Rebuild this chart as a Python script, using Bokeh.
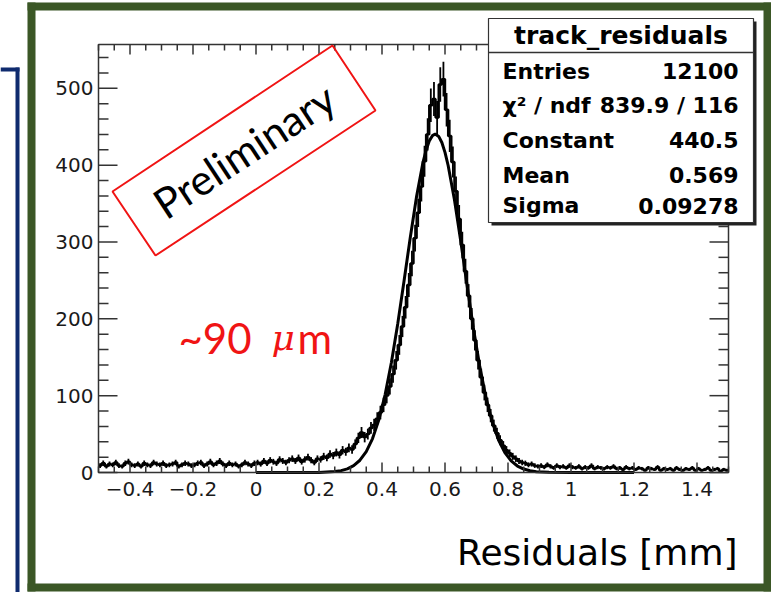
import numpy as np
from bokeh.plotting import figure
from bokeh.models import Range1d
from bokeh.core.properties import value
from bokeh.embed import file_html
from bokeh.resources import INLINE

# ---------------- data ----------------
BIN_LOW = -0.5
BIN_WIDTH = 0.01
COUNTS = [
    # -0.50 .. -0.01
    9, 12, 8, 11, 10, 13, 9, 8, 12, 14,
    10, 9, 11, 8, 12, 10, 9, 13, 11, 10,
    12, 9, 10, 11, 13, 8, 10, 12, 11, 9,
    10, 12, 13, 9, 11, 14, 10, 12, 15, 11,
    9, 12, 10, 11, 8, 10, 13, 11, 9, 12,
    # 0.00 .. 0.49
    13, 11, 15, 12, 16, 14, 12, 17, 15, 13,
    16, 18, 15, 19, 14, 17, 20, 16, 13, 18,
    17, 21, 19, 24, 22, 26, 23, 29, 27, 32,
    30, 37, 45, 52, 46, 50, 58, 62, 70, 78,
    88, 100, 112, 128, 146, 166, 190, 215, 244, 272,
    # 0.50 .. 0.99
    305, 338, 372, 405, 440, 478, 486, 462, 505, 512,
    472, 438, 404, 366, 330, 296, 262, 230, 200, 172,
    146, 124, 104, 88, 74, 61, 51, 42, 35, 29,
    25, 21, 18, 15, 13, 12, 10, 11, 9, 8,
    9, 7, 10, 8, 6, 9, 7, 8, 6, 9,
    # 1.00 .. 1.49
    7, 6, 8, 5, 7, 6, 9, 5, 7, 6,
    5, 7, 6, 8, 5, 6, 4, 7, 5, 6,
    4, 6, 5, 3, 6, 5, 4, 7, 3, 5,
    4, 5, 3, 6, 4, 3, 5, 4, 6, 3,
    5, 3, 4, 6, 3, 4, 5, 2, 4, 3,
]

# Gaussian fit curve values (Constant 440.5, Mean 0.569, Sigma 0.09278)
FIT_X = [0.00, 0.10, 0.20, 0.25, 0.27, 0.29, 0.31, 0.33, 0.35, 0.37, 0.39, 0.41,
         0.43, 0.45, 0.47, 0.49, 0.51, 0.53, 0.54, 0.55, 0.56, 0.569, 0.58, 0.59,
         0.60, 0.61, 0.63, 0.65, 0.67, 0.69, 0.71, 0.73, 0.75, 0.77, 0.79, 0.81,
         0.83, 0.85, 0.87, 0.89, 0.93, 1.00, 1.20]
FIT_Y = [0.0, 0.0, 0.16, 1.19, 2.45, 4.79, 8.96, 15.96, 27.18, 44.2, 68.5, 101.4,
         143.4, 193.5, 249.3, 306.5, 359.9, 403.3, 419.5, 431.3, 438.4, 440.5, 437.4, 429.4,
         416.6, 399.5, 354.9, 300.9, 243.6, 188.2, 138.8, 97.7, 65.7, 42.2, 25.8, 15.1,
         8.42, 4.49, 2.28, 1.11, 0.23, 0.0, 0.0]

X_TICKS = [-0.4, -0.2, 0.0, 0.2, 0.4, 0.6, 0.8, 1.0, 1.2, 1.4]
X_TICK_LABELS = ["\u22120.4", "\u22120.2", "0", "0.2", "0.4", "0.6", "0.8", "1", "1.2", "1.4"]
Y_TICKS = [0, 100, 200, 300, 400, 500]
Y_TICK_LABELS = ["0", "100", "200", "300", "400", "500"]

STATS_TITLE = "track_residuals"
STATS_NAMES = ["Entries", "\u03c7\u00b2 / ndf", "Constant", "Mean", "Sigma"]
STATS_VALUES = ["12100", "839.9 / 116", "440.5", "0.569", "0.09278"]

X_TITLE = "Residuals [mm]"

# ---------------- geometry ----------------
W, H = 771, 592
FL, FR, FT, FB = 98, 728, 44, 472          # ROOT frame, canvas pixels (y down)
X_START, X_END = -0.5, 1.5
Y_START, Y_END = 0, 557

sxp = (FR - FL) / (X_END - X_START)
syp = (FB - FT) / (Y_END - Y_START)

# The Bokeh frame covers the whole canvas in pixel units (y up); the histogram
# uses extra ranges that put its data window exactly on the ROOT frame.
p = figure(width=W, height=H, output_backend="svg", toolbar_location=None,
           x_range=Range1d(0, W), y_range=Range1d(0, H),
           x_axis_location=None, y_axis_location=None, min_border=0)
p.extra_x_ranges = {"hx": Range1d(X_START - FL / sxp, X_END + (W - FR) / sxp)}
p.extra_y_ranges = {"hy": Range1d(Y_START - (H - FB) / syp, Y_END + FT / syp)}
p.xgrid.visible = False
p.ygrid.visible = False
p.outline_line_color = None
p.background_fill_color = "white"
p.border_fill_color = "white"

HR = dict(x_range_name="hx", y_range_name="hy")


def Y(py):
    return H - py


def txt(x, y, s, font, size, color="black", align="left", baseline="middle",
        style="normal", angle=0.0, **kw):
    p.text(x=x, y=y, text=s, text_font=value(font), text_font_size=value(size),
           text_color=color, text_align=align, text_baseline=baseline,
           text_font_style=style, angle=angle, **kw)


# ---------------- histogram ----------------
counts = np.array(COUNTS, dtype=float)
edges = BIN_LOW + BIN_WIDTH * np.arange(len(counts) + 1)
centers = 0.5 * (edges[:-1] + edges[1:])
sx = np.repeat(edges, 2)[1:-1]
sy = np.repeat(counts, 2)
p.line(sx, sy, line_color="black", line_width=2.4, **HR)
err = np.sqrt(counts)
p.segment(x0=centers, y0=counts - err, x1=centers, y1=counts + err,
          line_color="black", line_width=1.8, **HR)
p.line(FIT_X, FIT_Y, line_color="black", line_width=3, **HR)

# ---------------- ROOT frame, ticks, tick labels ----------------
AX = "#333333"
p.quad(left=[X_START], right=[X_END], bottom=[Y_START], top=[Y_END],
       fill_color=None, line_color=AX, line_width=1.5, **HR)

x_minor = [round(-0.5 + 0.05 * i, 2) for i in range(41)]
x_minor = [v for v in x_minor if all(abs(v - t) > 1e-9 for t in X_TICKS)]
y_minor = [v for v in range(0, 557, 20) if v % 100 != 0]

for ticks, ln in ((X_TICKS, 10), (x_minor, 6)):
    n = len(ticks)
    p.segment(x0=ticks, x1=ticks, y0=[Y(FB)] * n, y1=[Y(FB) + ln] * n,
              line_color=AX, line_width=1.5, x_range_name="hx")
    p.segment(x0=ticks, x1=ticks, y0=[Y(FT)] * n, y1=[Y(FT) - ln] * n,
              line_color=AX, line_width=1.5, x_range_name="hx")
for ticks, ln in ((Y_TICKS, 19), (y_minor, 10)):
    n = len(ticks)
    p.segment(x0=[FL] * n, x1=[FL + ln] * n, y0=ticks, y1=ticks,
              line_color=AX, line_width=1.5, y_range_name="hy")
    p.segment(x0=[FR] * n, x1=[FR - ln] * n, y0=ticks, y1=ticks,
              line_color=AX, line_width=1.5, y_range_name="hy")

txt(X_TICKS, [Y(FB + 9)] * len(X_TICKS), X_TICK_LABELS, "DejaVu Sans", "20px",
    color="#1a1a1a", align="center", baseline="top", x_range_name="hx")
txt([FL - 5] * len(Y_TICKS), Y_TICKS, Y_TICK_LABELS, "DejaVu Sans", "20px",
    color="#1a1a1a", align="right", baseline="middle", y_range_name="hy")

# ---------------- slide annotations ----------------
RED = "#f01414"
GREEN = "#3b5726"
BLUE = "#0f2b6e"

corners_x = [332, 375, 155, 112]
corners_y = [45, 110, 255, 191]
p.patch(corners_x + corners_x[:1], [Y(v) for v in corners_y + corners_y[:1]],
        fill_color=None, line_color=RED, line_width=2)
txt([243.5], [Y(150)], ["Preliminary"], "Lato", "42px", align="center",
    angle=np.deg2rad(33.3))

txt([178], [Y(337)], ["~90"], "Lato", "42px", color=RED)
txt([271], [Y(337)], ["\u03bc"], "DejaVu Serif", "36px", color=RED, style="italic")
txt([297], [Y(337)], ["m"], "Lato", "42px", color=RED)

txt([737], [Y(552)], [X_TITLE], "DejaVu Sans", "36px", align="right")

# ---------------- stats box ----------------
SB_L, SB_T, SB_R, SB_B = 488, 18, 753, 222
p.quad(left=[SB_L + 3], right=[SB_R + 3], top=[Y(SB_T + 3)], bottom=[Y(SB_B + 3)],
       fill_color="#222222", line_color=None)
p.quad(left=[SB_L], right=[SB_R], top=[Y(SB_T)], bottom=[Y(SB_B)],
       fill_color="white", line_color="#333333", line_width=1.2)
p.segment(x0=[SB_L], x1=[SB_R], y0=[Y(52)], y1=[Y(52)], line_color="#333333",
          line_width=1.5)
txt([(SB_L + SB_R) / 2], [Y(35)], [STATS_TITLE], "DejaVu Sans", "25px",
    align="center", style="bold")
row_mid = [70.5, 104.5, 139.5, 174.5, 205]
n = len(STATS_NAMES)
txt([502] * n, [Y(v) for v in row_mid], STATS_NAMES, "DejaVu Sans", "22px", style="bold")
txt([738] * n, [Y(v) for v in row_mid], STATS_VALUES, "DejaVu Sans", "22px",
    align="right", style="bold")

# ---------------- slide frames ----------------
def band(l, t, r, b, color):
    p.quad(left=[l], right=[r], top=[Y(t)], bottom=[Y(b)], fill_color=color,
           line_color=None)


band(27, 2, 771, 10, GREEN)
band(27, 583, 771, 591, GREEN)
band(27, 2, 35, 591, GREEN)
band(763, 2, 771, 591, GREEN)
band(0, 67, 19, 71, BLUE)
band(15, 67, 19, 592, BLUE)

open("out.html", "w").write(file_html(p, INLINE))
